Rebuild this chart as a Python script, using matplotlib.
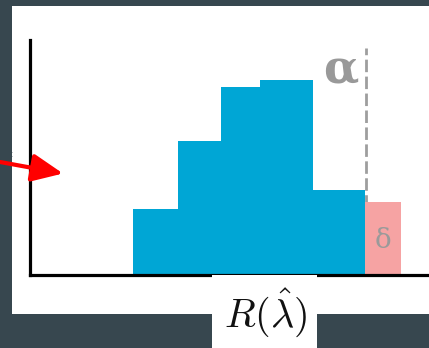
import numpy as np
import matplotlib.pyplot as plt
from matplotlib.patches import Rectangle, FancyArrowPatch

# histogram bins (arbitrary units along R(lambda-hat))
bin_edges = [2.58, 3.71, 4.79, 5.76, 7.09, 8.40, 9.30]
counts = [2.8, 5.7, 8.0, 8.3, 3.6, 3.1]
bar_colors = ['#00a6d5', '#00a6d5', '#00a6d5', '#00a6d5', '#00a6d5', '#f6a3a3']
alpha_pos = 8.42

W, H = 429, 348
plt.rcParams['mathtext.fontset'] = 'cm'
fig = plt.figure(figsize=(W / 100, H / 100), dpi=100)
fig.patch.set_facecolor('#37474f')

# white slide panel
fig.add_artist(Rectangle((12 / W, 34 / H), 417 / W, 308 / H, transform=fig.transFigure,
                         facecolor='white', edgecolor='none', zorder=-1))

ax = fig.add_axes([30 / W, 73 / H, 399 / W, 235 / H])
ax.set_xlim(0, 10)
ax.set_ylim(0, 10)
ax.patch.set_visible(False)
for s in ['top', 'right']:
    ax.spines[s].set_visible(False)
for s in ['left', 'bottom']:
    ax.spines[s].set_linewidth(2.3)
    ax.spines[s].set_color('black')
ax.set_xticks([])
ax.set_yticks([])

widths = np.diff(bin_edges)
ax.bar(bin_edges[:-1], counts, width=widths, align='edge', color=bar_colors,
       edgecolor='none', zorder=2)

ax.axvline(alpha_pos, ymin=0, ymax=0.966, color='#9e9e9e', lw=2.0,
           dashes=(4.5, 1.6), zorder=1)
ax.text(alpha_pos - 0.63, 8.75, 'α', fontsize=33, color='#999999', family='DejaVu Serif',
        fontweight='bold', ha='center', va='center')
ax.text((bin_edges[-2] + bin_edges[-1]) / 2, 1.45, 'δ', fontsize=20, color='#9a9a9a',
        family='DejaVu Serif', ha='center', va='center', zorder=3)

# white label box covering the axis
fig.add_artist(Rectangle((212 / W, 0), 105 / W, 73 / H, transform=fig.transFigure,
                         facecolor='white', edgecolor='none', zorder=2))
fig.text(266 / W, 1 - 313 / H, r'$R(\hat{\lambda})$', fontsize=29, ha='center', va='center',
         color='#111111', zorder=3)

fig.text(12 / W, 1 - 154 / H, ':', fontsize=8, color='#37474f', ha='center', va='center', zorder=3)

arrow = FancyArrowPatch((0, 1 - 162 / H), (63 / W, 1 - 173.5 / H), transform=fig.transFigure,
                        arrowstyle='-|>,head_length=1.9,head_width=0.85', mutation_scale=10,
                        color='#ff0000', lw=3, shrinkA=0, shrinkB=0, zorder=4)
fig.add_artist(arrow)

fig.savefig('out.png', dpi=100, facecolor=fig.get_facecolor())
